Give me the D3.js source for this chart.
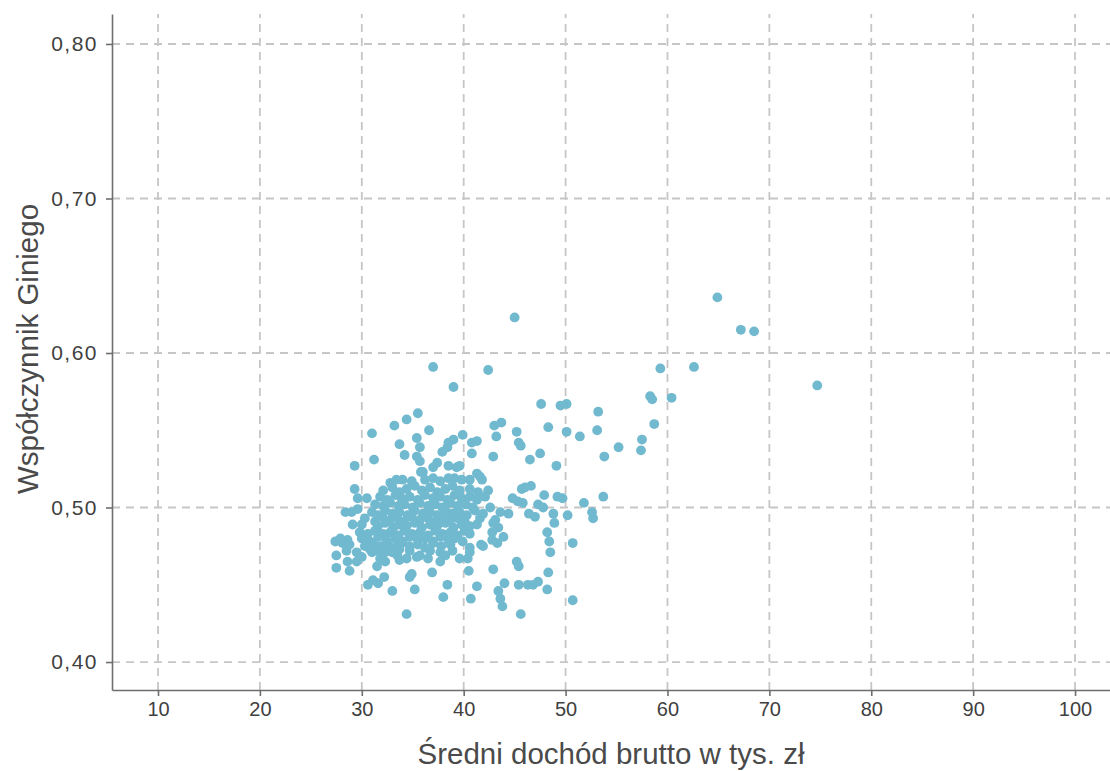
<!DOCTYPE html>
<html><head><meta charset="utf-8">
<script src="https://cdn.jsdelivr.net/npm/d3@7"></script>
<style>body{margin:0;background:#fff}svg{display:block}</style>
</head><body>
<svg id="c" width="1110" height="771"></svg>
<script>
const xTicks = [10,20,30,40,50,60,70,80,90,100];
const yTicks = [0.40,0.50,0.60,0.70,0.80];
const xTitle = "Średni dochód brutto w tys. zł";
const yTitle = "Współczynnik Giniego";

const outerPts = [[64.9,0.636],[67.2,0.615],[68.5,0.614],[74.7,0.579],[62.6,0.591],[59.3,0.590],[60.4,0.571],[58.3,0.572],[58.5,0.570],[58.7,0.554],[57.5,0.544],[57.4,0.537],[55.2,0.539],[53.8,0.533],[53.7,0.507],[51.8,0.503],[52.6,0.497],[52.7,0.493],[53.2,0.562],[53.1,0.550],[51.4,0.546],[50.7,0.477],[50.7,0.440],[50.1,0.567],[49.5,0.566],[50.1,0.549],[48.3,0.552],[45.0,0.623],[42.4,0.589],[37.0,0.591],[39.0,0.578],[47.6,0.567],[43.0,0.553],[43.7,0.555],[39.9,0.547],[40.8,0.542],[41.3,0.543],[43.2,0.546],[45.2,0.549],[45.4,0.542],[45.6,0.540],[40.8,0.535],[42.9,0.533],[46.5,0.531],[47.5,0.535],[49.1,0.527],[39.6,0.527],[41.3,0.522],[41.8,0.518],[45.7,0.512],[46.0,0.513],[46.6,0.514],[47.9,0.508],[49.2,0.507],[49.7,0.506],[44.8,0.506],[45.3,0.504],[45.8,0.503],[47.3,0.502],[47.8,0.500],[48.8,0.496],[48.9,0.490],[50.2,0.495],[46.4,0.496],[47.0,0.494],[44.4,0.496],[43.6,0.497],[42.6,0.500],[48.2,0.484],[48.4,0.478],[48.5,0.471],[42.9,0.490],[43.9,0.481],[43.3,0.477],[42.8,0.479],[41.7,0.476],[40.6,0.474],[40.4,0.467],[40.5,0.459],[42.9,0.460],[45.2,0.465],[45.4,0.462],[48.3,0.458],[44.0,0.451],[41.3,0.449],[45.4,0.450],[46.3,0.450],[46.8,0.450],[47.3,0.452],[48.2,0.447],[43.4,0.446],[43.6,0.441],[43.8,0.436],[40.7,0.441],[45.6,0.431]];

const upperPts = [[35.5,0.561],[34.4,0.557],[33.2,0.553],[31.0,0.548],[36.6,0.550],[35.4,0.545],[33.7,0.541],[35.7,0.539],[34.2,0.534],[35.4,0.533],[35.7,0.530],[31.2,0.531],[29.3,0.527],[39.0,0.544],[38.5,0.542],[38.4,0.539],[37.9,0.536],[37.4,0.529],[37.0,0.526],[38.5,0.527],[39.3,0.526],[35.8,0.523],[37.0,0.519],[38.5,0.519],[34.0,0.518],[33.4,0.518],[41.6,0.520],[39.1,0.519],[39.8,0.518],[40.6,0.518],[36.0,0.523],[36.2,0.518],[32.8,0.516],[34.9,0.517],[37.7,0.517]];

const lowerPts = [[27.5,0.469],[27.5,0.461],[28.6,0.465],[29.5,0.465],[28.8,0.459],[30.6,0.450],[31.1,0.453],[31.6,0.451],[32.2,0.455],[33.0,0.446],[35.2,0.447],[34.4,0.431],[31.5,0.462],[33.0,0.471],[33.5,0.469],[33.7,0.466],[34.4,0.467],[35.4,0.468],[34.7,0.455],[34.9,0.457],[31.0,0.471],[36.9,0.458],[38.4,0.450],[38.0,0.442],[35.7,0.469],[36.5,0.467],[37.7,0.465],[38.2,0.469],[38.9,0.472],[39.6,0.467],[40.6,0.471]];

const leftPts = [[29.3,0.512],[29.6,0.506],[30.5,0.506],[28.4,0.497],[29.0,0.497],[29.6,0.499],[27.4,0.478],[28.1,0.477],[29.1,0.489]];

const corePts = [
[32.1,0.511],[33.0,0.513],[33.7,0.510],[34.4,0.512],[35.2,0.514],[35.9,0.511],[36.7,0.513],[37.4,0.510],[38.2,0.512],[38.9,0.514],[39.6,0.511],[40.6,0.512],[41.4,0.510],[42.4,0.511],
[31.8,0.507],[32.5,0.505],[33.3,0.508],[33.9,0.506],[34.7,0.507],[35.5,0.505],[36.2,0.508],[37.0,0.506],[37.7,0.507],[38.4,0.505],[39.1,0.508],[39.8,0.506],[40.6,0.507],[41.3,0.505],[42.1,0.507],
[31.3,0.502],[32.1,0.501],[32.8,0.503],[33.6,0.501],[34.2,0.502],[35.0,0.500],[35.7,0.503],[36.5,0.501],[37.2,0.502],[37.9,0.500],[38.7,0.503],[39.4,0.501],[40.2,0.502],[40.9,0.500],
[31.0,0.497],[31.6,0.495],[32.3,0.498],[33.0,0.496],[33.7,0.497],[34.5,0.495],[35.2,0.498],[36.0,0.496],[36.7,0.497],[37.4,0.495],[38.2,0.498],[38.9,0.496],[39.6,0.497],[40.3,0.495],[41.1,0.498],[41.9,0.496],
[30.3,0.493],[31.3,0.491],[32.0,0.494],[32.8,0.492],[33.5,0.493],[34.2,0.491],[34.9,0.494],[35.7,0.492],[36.5,0.493],[37.3,0.491],[38.0,0.494],[38.7,0.492],[39.4,0.493],[40.1,0.491],[41.6,0.493],[43.1,0.492],
[30.0,0.489],[31.6,0.488],[32.3,0.490],[33.1,0.487],[33.7,0.489],[34.4,0.488],[35.2,0.490],[35.9,0.487],[36.7,0.489],[37.4,0.488],[38.2,0.490],[39.0,0.487],[39.8,0.489],[40.6,0.488],[41.3,0.489],[43.4,0.487],
[29.8,0.484],[30.6,0.483],[31.3,0.485],[32.1,0.483],[32.8,0.484],[33.6,0.482],[34.2,0.485],[34.9,0.483],[35.7,0.484],[36.5,0.482],[37.2,0.485],[37.9,0.483],[38.7,0.484],[39.4,0.482],[40.1,0.485],[40.6,0.483],[42.8,0.484],
[27.9,0.480],[28.6,0.479],[30.0,0.480],[30.8,0.478],[31.6,0.481],[32.4,0.479],[33.3,0.480],[34.0,0.478],[34.7,0.481],[35.5,0.479],[36.2,0.480],[37.0,0.478],[37.7,0.481],[38.5,0.479],[39.1,0.480],[39.9,0.478],
[28.8,0.476],[30.3,0.475],[31.1,0.477],[31.8,0.475],[32.6,0.476],[33.3,0.474],[33.9,0.477],[34.7,0.475],[35.5,0.476],[36.2,0.474],[37.0,0.477],[37.8,0.475],[38.7,0.476],[41.9,0.475],
[28.5,0.472],[29.5,0.471],[30.8,0.473],[31.6,0.472],[32.3,0.471],[33.7,0.473],[34.7,0.472],[36.7,0.472],[37.7,0.471],
[30.0,0.468],[31.8,0.467],[32.3,0.465]];

const points = [].concat(outerPts, upperPts, lowerPts, leftPts, corePts);

const svg = d3.select("#c");
const x = d3.scaleLinear().domain([5.485, 103.43]).range([112, 1110]);
const y = d3.scaleLinear().domain([0.3819, 0.8194]).range([690, 14]);
const fmt = v => d3.format(".2f")(v).replace(".", ",");
const font = "Liberation Sans, Arial, sans-serif";

// grid
const grid = svg.append("g").attr("stroke", "#c6c6c6").attr("stroke-width", 1.8).attr("stroke-dasharray", "8,6");
grid.selectAll("line.v").data(xTicks).join("line").attr("class","v")
  .attr("x1", d => x(d)).attr("x2", d => x(d)).attr("y1", y.range()[0]).attr("y2", y.range()[1]);
grid.selectAll("line.h").data(yTicks).join("line").attr("class","h")
  .attr("y1", d => y(d)).attr("y2", d => y(d)).attr("x1", x.range()[0]).attr("x2", x.range()[1]);

// points
svg.append("g").selectAll("circle").data(points).join("circle")
  .attr("cx", d => x(d[0])).attr("cy", d => y(d[1])).attr("r", 4.9)
  .attr("fill", "#71b9cf");

// axes
const axisColor = "#6e6e6e";
const gx = svg.append("g").attr("transform", `translate(0,${y.range()[0]})`)
  .call(d3.axisBottom(x).tickValues(xTicks).tickSize(6).tickPadding(6).tickSizeOuter(0));
const gy = svg.append("g").attr("transform", `translate(${x.range()[0]},0)`)
  .call(d3.axisLeft(y).tickValues(yTicks).tickFormat(fmt).tickSize(6).tickPadding(8).tickSizeOuter(0));
[gx, gy].forEach(g => {
  g.attr("font-size", null).attr("font-family", null);
  g.select(".domain").attr("stroke", axisColor).attr("stroke-width", 1.6);
  g.selectAll(".tick line").attr("stroke", axisColor).attr("stroke-width", 1.6);
  g.selectAll(".tick text").attr("fill", "#3f3f3f").style("font-size", "20px")
    .style("font-family", font);
});
gy.selectAll(".tick text").style("font-size", "21px").style("letter-spacing", "1.5px");

svg.append("text").attr("x", (x.range()[0] + x.range()[1]) / 2).attr("y", 764)
  .attr("text-anchor", "middle").style("font-size", "29.5px").attr("fill", "#4a4a4a")
  .style("font-family", font).text(xTitle);
svg.append("text").attr("transform", `translate(38,${(y.range()[0] + y.range()[1]) / 2 - 3}) rotate(-90)`)
  .attr("text-anchor", "middle").style("font-size", "29.5px").attr("fill", "#4a4a4a")
  .style("font-family", font).text(yTitle);
</script>
</body></html>
